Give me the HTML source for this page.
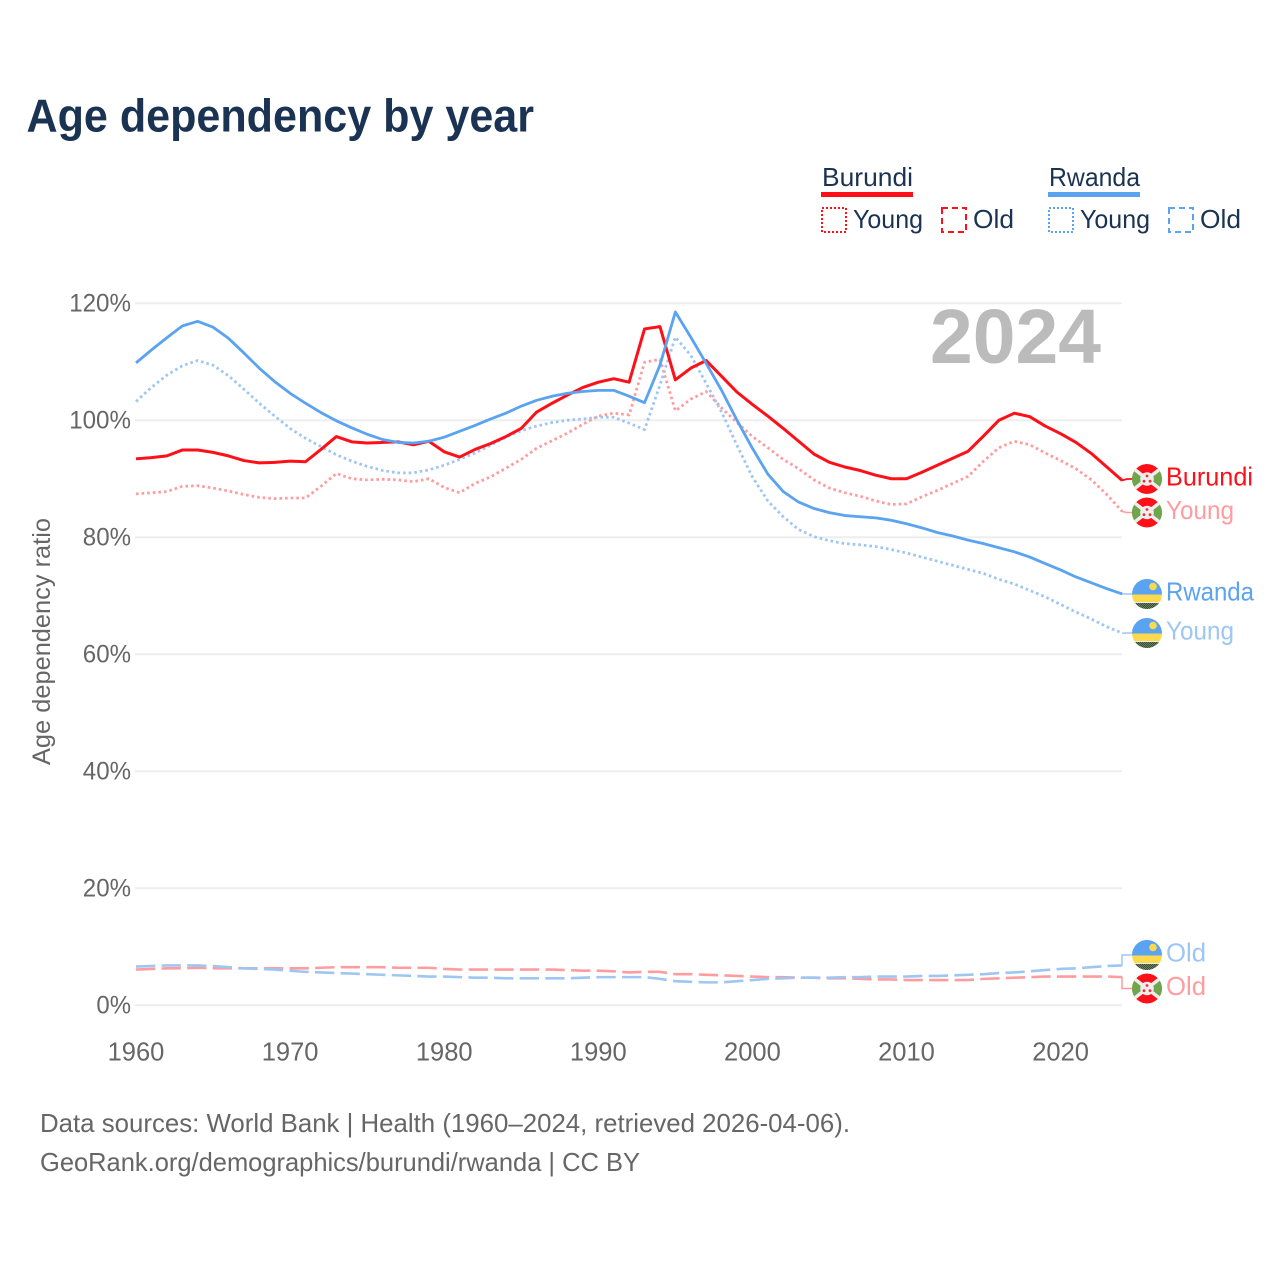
<!DOCTYPE html>
<html lang="en">
<head>
<meta charset="utf-8">
<title>Age dependency by year</title>
<style>
html,body{margin:0;padding:0;background:#fff;width:1280px;height:1280px;overflow:hidden}
svg{display:block;font-family:"Liberation Sans",sans-serif}
</style>
</head>
<body>
<svg id="chart" width="1280" height="1280" viewBox="0 0 1280 1280" xmlns="http://www.w3.org/2000/svg">
  <defs>
    <clipPath id="flag-clip"><circle cx="0" cy="0" r="15"/></clipPath>
    <pattern id="dither" width="2" height="2" patternUnits="userSpaceOnUse">
      <rect width="2" height="2" fill="#5f8a50"/>
      <rect width="1" height="1" fill="#444"/>
      <rect x="1" y="1" width="1" height="1" fill="#444"/>
    </pattern>
  </defs>
  <rect width="1280" height="1280" fill="#fff"/>
  <text x="26.5" y="131.5" font-size="46" font-weight="700" fill="#1a3352" textLength="507.5" lengthAdjust="spacingAndGlyphs">Age dependency by year</text>

  <g font-size="26" fill="#1a3352">
    <text x="822" y="186" textLength="91" lengthAdjust="spacingAndGlyphs">Burundi</text>
    <rect x="821" y="192" width="92" height="5" fill="#ff0f18"/>
    <rect x="822" y="208" width="24" height="24" fill="none" stroke="#ff0f18" stroke-width="2" stroke-dasharray="2 2"/>
    <text x="853" y="228" textLength="70" lengthAdjust="spacingAndGlyphs">Young</text>
    <rect x="942" y="208" width="24" height="24" fill="none" stroke="#ff0f18" stroke-width="2" stroke-dasharray="6 4"/>
    <text x="973" y="228" textLength="41" lengthAdjust="spacingAndGlyphs">Old</text>
    <text x="1049" y="186" textLength="91" lengthAdjust="spacingAndGlyphs">Rwanda</text>
    <rect x="1048" y="192" width="92" height="5" fill="#5aa3f0"/>
    <rect x="1049" y="208" width="24" height="24" fill="none" stroke="#5aa3f0" stroke-width="2" stroke-dasharray="2 2"/>
    <text x="1080" y="228" textLength="70" lengthAdjust="spacingAndGlyphs">Young</text>
    <rect x="1169" y="208" width="24" height="24" fill="none" stroke="#5aa3f0" stroke-width="2" stroke-dasharray="6 4"/>
    <text x="1200" y="228" textLength="41" lengthAdjust="spacingAndGlyphs">Old</text>
  </g>

  <g id="grid"></g>
  <g id="ticks"></g>
  <text transform="translate(50,641.5) rotate(-90)" text-anchor="middle" font-size="25" fill="#666" textLength="247" lengthAdjust="spacingAndGlyphs">Age dependency ratio</text>
  <text x="930" y="363" font-size="77" font-weight="700" fill="#bbb" textLength="171" lengthAdjust="spacingAndGlyphs">2024</text>
  <g id="series"></g>
  <g id="labels"></g>

  <g font-size="26" fill="#666">
    <text x="40" y="1132" textLength="810" lengthAdjust="spacingAndGlyphs">Data sources: World Bank | Health (1960–2024, retrieved 2026-04-06).</text>
    <text x="40" y="1171" textLength="600" lengthAdjust="spacingAndGlyphs">GeoRank.org/demographics/burundi/rwanda | CC BY</text>
  </g>
</svg>
<script>
const firstYear = 1960;
const xTickYears = [1960, 1970, 1980, 1990, 2000, 2010, 2020];
const yTickValues = [0, 20, 40, 60, 80, 100, 120];
const burundiTotal = [
  93.4,93.6,93.9,94.9,94.9,94.5,93.9,93.1,92.7,92.8,
  93.0,92.9,95.0,97.2,96.3,96.1,96.2,96.3,95.8,96.4,
  94.6,93.7,95.0,96.0,97.2,98.6,101.4,102.9,104.3,105.6,
  106.5,107.1,106.5,115.6,116.0,106.9,108.9,110.2,107.5,104.8,
  102.7,100.7,98.6,96.4,94.2,92.8,92.0,91.4,90.6,90.0,
  90.0,91.1,92.3,93.5,94.7,97.3,100.0,101.2,100.6,99.0,
  97.7,96.2,94.3,92.0,89.7];
const burundiYoung = [
  87.4,87.6,87.8,88.7,88.8,88.4,87.9,87.3,86.8,86.6,
  86.7,86.7,88.7,90.9,90.0,89.8,89.9,89.8,89.5,90.0,
  88.5,87.6,89.2,90.3,91.8,93.3,95.2,96.5,97.8,99.3,
  100.7,101.2,100.9,109.9,110.4,101.6,103.6,104.9,102.1,99.6,
  97.2,95.3,93.3,91.7,89.8,88.4,87.6,87.0,86.2,85.6,
  85.7,86.9,88.0,89.2,90.4,93.0,95.3,96.4,95.8,94.4,
  93.1,91.7,89.8,87.3,84.4];
const burundiOld = [
  6.1,6.2,6.3,6.3,6.4,6.3,6.3,6.3,6.3,6.3,
  6.3,6.3,6.4,6.5,6.5,6.5,6.5,6.4,6.4,6.4,
  6.2,6.1,6.1,6.1,6.1,6.1,6.1,6.1,6.0,5.9,
  5.9,5.8,5.6,5.7,5.7,5.3,5.3,5.2,5.1,5.0,
  4.9,4.8,4.8,4.7,4.7,4.6,4.6,4.5,4.4,4.4,
  4.3,4.3,4.3,4.3,4.3,4.5,4.6,4.7,4.8,4.9,
  4.9,4.9,4.9,4.9,4.8];
const rwandaTotal = [
  109.8,112.0,114.1,116.1,116.9,115.9,114.0,111.5,108.9,106.6,
  104.6,102.9,101.3,99.9,98.7,97.6,96.7,96.2,96.1,96.4,
  97.1,98.1,99.1,100.2,101.2,102.4,103.4,104.1,104.6,104.9,
  105.1,105.1,104.1,103.0,109.4,118.5,114.2,109.7,105.1,100.0,
  95.2,90.8,87.8,86.0,84.9,84.2,83.7,83.5,83.3,82.9,
  82.3,81.6,80.8,80.2,79.5,78.9,78.2,77.5,76.6,75.5,
  74.4,73.2,72.2,71.2,70.3];
const rwandaYoung = [
  103.2,105.6,107.7,109.3,110.2,109.4,107.6,105.3,102.9,100.7,
  98.6,96.9,95.5,94.1,93.0,92.1,91.4,91.0,91.0,91.5,
  92.3,93.3,94.4,95.7,97.1,98.2,99.0,99.6,100.0,100.2,
  100.5,100.5,99.5,98.4,106.0,114.2,111.1,106.3,101.4,95.7,
  90.3,86.2,83.5,81.3,80.1,79.4,78.9,78.7,78.4,77.9,
  77.3,76.6,75.9,75.2,74.5,73.8,72.8,72.0,70.9,69.8,
  68.5,67.2,66.0,64.7,63.6];
const rwandaOld = [
  6.6,6.7,6.8,6.8,6.8,6.7,6.5,6.3,6.2,6.1,
  5.9,5.7,5.6,5.5,5.4,5.3,5.2,5.1,5.0,4.9,
  4.9,4.8,4.7,4.7,4.6,4.6,4.6,4.6,4.6,4.7,
  4.8,4.8,4.8,4.8,4.5,4.1,4.0,3.9,3.9,4.1,
  4.3,4.5,4.6,4.7,4.7,4.7,4.8,4.8,4.9,4.9,
  4.9,5.0,5.0,5.1,5.2,5.3,5.5,5.6,5.8,6.0,
  6.2,6.3,6.5,6.7,6.8];

const NS = 'http://www.w3.org/2000/svg';
const xScale = function (year) { return 136 + (year - 1960) * 15.41; };
const yScale = function (v) { return 1005.2 - v * 5.85; };
const axisRight = 1122;

function mk(tag, parent, attrs) {
  const el = document.createElementNS(NS, tag);
  for (const k in attrs) el.setAttribute(k, attrs[k]);
  parent.appendChild(el);
  return el;
}

const grid = document.getElementById('grid');
const ticks = document.getElementById('ticks');
yTickValues.forEach(function (v) {
  const line = mk('line', grid, {x1: 135, x2: axisRight, y1: yScale(v), y2: yScale(v), stroke: '#eeeeee', 'stroke-width': 2});
  
  
  const t = mk('text', ticks, {x: 131, y: yScale(v) + 8.5, 'text-anchor': 'end', 'font-size': 25, fill: '#666', textLength: (String(v).length * 13.6 + 21), lengthAdjust: 'spacingAndGlyphs'});
  
  
  t.textContent = v + '%';
});
xTickYears.forEach(function (yr) {
  const t = mk('text', ticks, {x: xScale(yr), y: 1060.5, 'text-anchor': 'middle', 'font-size': 25.5, fill: '#666'});
  
  
  t.textContent = yr;
});

const series = document.getElementById('series');
function drawSeries(values, name, color, width, dash) {
  const d = values.map(function (v, i) {
    return (i ? 'L' : 'M') + xScale(firstYear + i).toFixed(2) + ' ' + yScale(v).toFixed(2);
  }).join('');
  const attrs = {d: d, fill: 'none', stroke: color, 'stroke-width': width, 'stroke-linejoin': 'round'};
  if (dash) attrs['stroke-dasharray'] = dash;
  const p = mk('path', series, attrs);
  
  
}
const RED = '#ff0f18', BLUE = '#5aa3f0', LRED = '#ff9c9f', LBLUE = '#9dc6f3';
const DOT = '2.6 3', DASH = '19.3 6.3';
drawSeries(burundiOld, 'burundi-old-line', LRED, 2.6, DASH);
drawSeries(rwandaOld, 'rwanda-old-line', LBLUE, 2.6, DASH);
drawSeries(burundiYoung, 'burundi-young-line', LRED, 2.8, DOT);
drawSeries(rwandaYoung, 'rwanda-young-line', LBLUE, 2.8, DOT);
drawSeries(burundiTotal, 'burundi-total-line', RED, 3);
drawSeries(rwandaTotal, 'rwanda-total-line', BLUE, 2.8);

const labels = document.getElementById('labels');
function flagBurundi(g) {
  mk('circle', g, {r: 15, fill: '#ff0f18'});
  mk('path', g, {d: 'M0 0L-18 -14L-18 14Z', fill: '#6fa64b'});
  mk('path', g, {d: 'M0 0L18 -14L18 14Z', fill: '#6fa64b'});
  mk('path', g, {d: 'M-13 -10L13 10M13 -10L-13 10', stroke: '#eee', 'stroke-width': 3.5});
  mk('circle', g, {r: 6.8, fill: '#eee'});
  mk('circle', g, {cx: 0, cy: -3, r: 1.4, fill: '#e33'});
  mk('circle', g, {cx: -3, cy: 2.2, r: 1.4, fill: '#e33'});
  mk('circle', g, {cx: 3, cy: 2.2, r: 1.4, fill: '#e33'});
}
function flagRwanda(g) {
  mk('rect', g, {x: -15, y: -15, width: 30, height: 15.5, fill: '#5aa3f0'});
  mk('rect', g, {x: -15, y: 0.5, width: 30, height: 7.5, fill: '#fdd94e'});
  mk('rect', g, {x: -15, y: 8, width: 30, height: 1, fill: '#e6ece6'});
  mk('rect', g, {x: -15, y: 9, width: 30, height: 6.5, fill: 'url(#dither)'});
  mk('circle', g, {cx: 6, cy: -7.5, r: 3.8, fill: '#fdd94e'});
}
function endLabel(name, text, color, lineColor, series0, flagY, kink, drawFlag, textLen, lineWidth) {
  const yEnd = yScale(series0[series0.length - 1]);
  const d = kink
    ? 'M' + axisRight + ' ' + yEnd.toFixed(1) + 'L' + axisRight + ' ' + flagY + 'L1132 ' + flagY
    : 'M' + axisRight + ' ' + yEnd.toFixed(1) + 'L1127 ' + flagY + 'L1132 ' + flagY;
  const c = mk('path', labels, {d: d, fill: 'none', stroke: lineColor, 'stroke-width': lineWidth});
  
  
  const g = mk('g', labels, {transform: 'translate(1147,' + flagY + ')', 'clip-path': 'url(#flag-clip)'});
  
  
  drawFlag(g);
  const t = mk('text', labels, {x: 1166, y: flagY + 6.5, 'font-size': 26, fill: color, textLength: textLen, lengthAdjust: 'spacingAndGlyphs'});
  
  
  t.textContent = text;
}
endLabel('burundi-total', 'Burundi', RED, RED, burundiTotal, 479, false, flagBurundi, 87, 1.8);
endLabel('burundi-young', 'Young', LRED, LRED, burundiYoung, 512.5, false, flagBurundi, 68, 1.5);
endLabel('rwanda-total', 'Rwanda', BLUE, LBLUE, rwandaTotal, 594, false, flagRwanda, 88, 1.5);
endLabel('rwanda-young', 'Young', LBLUE, LBLUE, rwandaYoung, 633, false, flagRwanda, 68, 1.5);
endLabel('rwanda-old', 'Old', LBLUE, LBLUE, rwandaOld, 955, true, flagRwanda, 40, 1.5);
endLabel('burundi-old', 'Old', LRED, LRED, burundiOld, 988.5, true, flagBurundi, 40, 1.5);
</script>
</body>
</html>
